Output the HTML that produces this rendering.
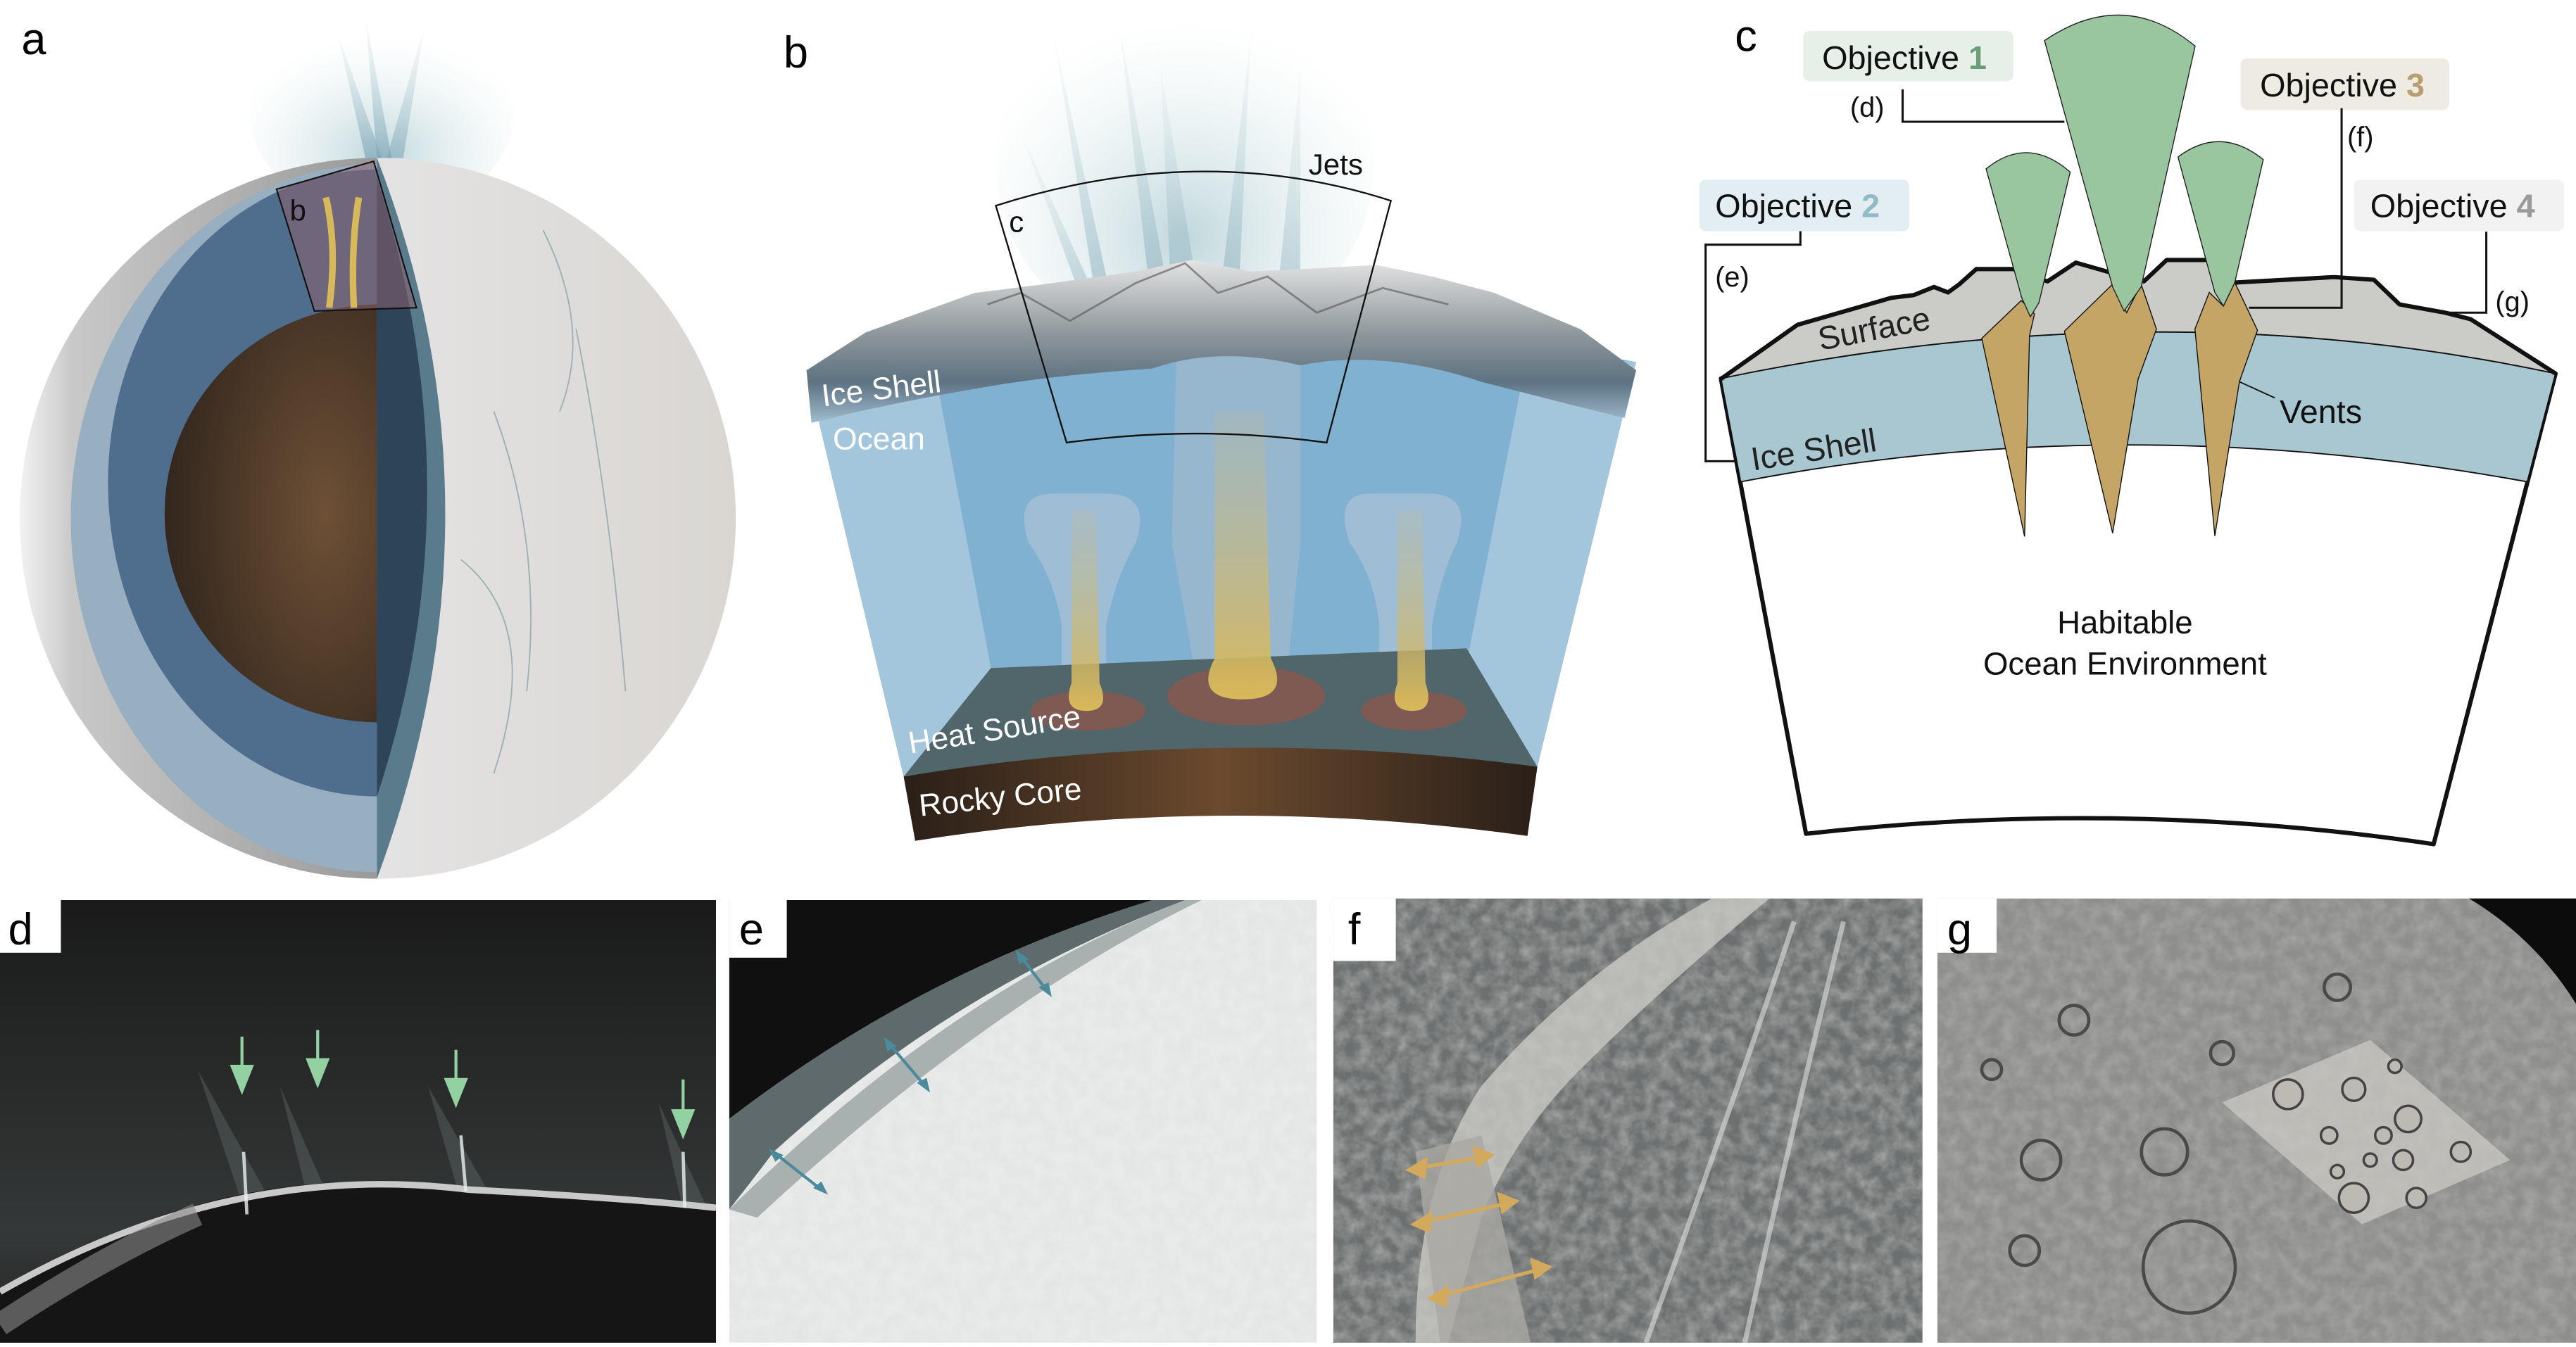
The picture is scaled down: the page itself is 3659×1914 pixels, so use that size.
<!DOCTYPE html>
<html><head><meta charset="utf-8">
<style>
html,body{margin:0;padding:0;background:#fff;}
svg{display:block;}
text{font-family:"Liberation Sans",Arial,sans-serif;}
</style></head>
<body>
<svg width="3659" height="1914" viewBox="0 0 1565 818.6" preserveAspectRatio="none" xmlns="http://www.w3.org/2000/svg">
<defs>
<radialGradient id="core" cx="0.75" cy="0.5" r="0.8">
<stop offset="0" stop-color="#6e5036"/><stop offset="1" stop-color="#2f241c"/></radialGradient>
<linearGradient id="shadow" x1="0" x2="1"><stop offset="0" stop-color="#f2f2f2"/><stop offset="0.15" stop-color="#c8c8c8"/><stop offset="1" stop-color="#9a9a9a"/></linearGradient>
<linearGradient id="ice" x1="0" x2="1" y1="0" y2="0"><stop offset="0" stop-color="#d8d8d6"/><stop offset="0.5" stop-color="#e4e3e3"/><stop offset="1" stop-color="#d9d6d2"/></linearGradient>
<radialGradient id="haze" cx="0.5" cy="0.7" r="0.6"><stop offset="0" stop-color="#b9d3d8" stop-opacity="0.9"/><stop offset="1" stop-color="#e6f0f1" stop-opacity="0"/></radialGradient>
<linearGradient id="jet" x1="0" y1="1" x2="0" y2="0"><stop offset="0" stop-color="#7ea6b6"/><stop offset="1" stop-color="#cfe2e6" stop-opacity="0.2"/></linearGradient>
<linearGradient id="rock" x1="0" x2="1"><stop offset="0" stop-color="#2a1f18"/><stop offset="0.5" stop-color="#6b4a2e"/><stop offset="1" stop-color="#2a1f18"/></linearGradient>
<linearGradient id="shell" x1="0" y1="0" x2="0" y2="1"><stop offset="0" stop-color="#e4e4e4"/><stop offset="0.45" stop-color="#8f989c"/><stop offset="0.75" stop-color="#5d7282"/><stop offset="1" stop-color="#9fbccd"/></linearGradient>
<linearGradient id="stem" x1="0" y1="0" x2="0" y2="1"><stop offset="0" stop-color="#c7b98a" stop-opacity="0.2"/><stop offset="1" stop-color="#d8b95a"/></linearGradient>
<linearGradient id="dsky" x1="0" y1="0" x2="0" y2="1"><stop offset="0" stop-color="#1a1a1a"/><stop offset="0.75" stop-color="#353838"/><stop offset="1" stop-color="#262626"/></linearGradient>
<filter id="tex" x="0" y="0" width="1" height="1"><feTurbulence type="fractalNoise" baseFrequency="0.12" numOctaves="3" seed="3"/><feColorMatrix type="matrix" values="0 0 0 0 0.5 0 0 0 0 0.5 0 0 0 0 0.5 0 0 0 1.2 -0.35"/></filter>
<clipPath id="cf"><rect x="810" y="546" width="358" height="270"/></clipPath>
<clipPath id="cg"><rect x="1177" y="546" width="388" height="270"/></clipPath>
<clipPath id="ce"><rect x="443" y="547" width="357" height="269"/></clipPath>
<clipPath id="cd"><rect x="0" y="547" width="435" height="269"/></clipPath>
</defs>

<!-- ============ Panel a ============ -->
<text x="13" y="33" font-size="27">a</text>
<ellipse cx="232" cy="70" rx="80" ry="60" fill="url(#haze)"/>
<polygon points="205,20 222,96 232,96" fill="url(#jet)" opacity="0.7"/>
<polygon points="222,10 229,96 238,96" fill="url(#jet)" opacity="0.7"/>
<polygon points="258,15 235,96 245,96" fill="url(#jet)" opacity="0.6"/>
<ellipse cx="230" cy="315" rx="217" ry="219" fill="url(#ice)"/>
<path d="M229,96 A217,219 0 0 0 229,534 Z" fill="url(#shadow)"/>
<path d="M229,100 A186,215 0 0 0 229,530 Z" fill="#97afc0"/>
<path d="M229,103 A163,190 0 0 0 229,484 Z" fill="#4f6d8d"/>
<path d="M230,185 A130,127 0 0 0 230,439 Z" fill="url(#core)"/>
<path d="M229,96 Q312,310 229,534 Z" fill="#5a7b8c"/>
<path d="M229,108 Q290,300 229,484 Z" fill="#2d4459"/>
<path d="M300,250 Q330,330 320,420 M350,200 Q370,300 380,420 M280,340 Q330,380 300,470 M330,140 Q360,200 340,250" fill="none" stroke="#7f9ea0" stroke-width="0.8" opacity="0.7"/>
<polygon points="168,115 227,98 253,187 191,189" fill="#8a6070" opacity="0.55"/>
<path d="M200,187 Q205,150 198,120 M215,187 Q213,150 218,120" stroke="#d8b95a" stroke-width="4" fill="none"/>
<polygon points="168,115 227,98 253,187 191,189" fill="none" stroke="#111" stroke-width="0.9"/>
<text x="176" y="134" font-size="18" fill="#111">b</text>

<!-- ============ Panel b ============ -->
<text x="476" y="41" font-size="27">b</text>
<ellipse cx="720" cy="100" rx="115" ry="110" fill="url(#haze)"/>
<polygon points="640,20 668,195 678,195" fill="url(#jet)" opacity="0.6"/>
<polygon points="680,15 700,190 712,190" fill="url(#jet)" opacity="0.6"/>
<polygon points="705,40 712,190 730,190" fill="url(#jet)" opacity="0.6"/>
<polygon points="760,20 740,190 752,190" fill="url(#jet)" opacity="0.6"/>
<polygon points="790,40 775,190 790,190" fill="url(#jet)" opacity="0.5"/>
<polygon points="620,80 660,190 670,190" fill="url(#jet)" opacity="0.5"/>
<!-- ocean -->
<polygon points="490,225 600,205 880,200 994,220 934,466 549,472" fill="#80b1d0"/>
<polygon points="490,225 566,215 602,406 549,472" fill="#a3c6dc"/>
<polygon points="994,220 928,215 891,403 934,466" fill="#a3c6dc"/>
<!-- plumes -->
<path d="M640,300 Q615,300 625,330 Q640,350 645,380 L645,430 L672,430 L672,380 Q678,350 690,330 Q700,300 672,300Z" fill="#b8c8d8" opacity="0.55"/>
<path d="M715,200 L712,330 L730,430 L780,430 L790,330 L790,200Z" fill="#a8bccc" opacity="0.55"/>
<path d="M832,300 Q810,300 820,330 Q835,350 838,380 L838,430 L870,430 L870,380 Q875,350 885,330 Q895,300 868,300Z" fill="#b8c8d8" opacity="0.55"/>
<!-- floor -->
<polygon points="602,406 891,394 934,466 549,472" fill="#51666a"/>
<ellipse cx="661" cy="432" rx="35" ry="12" fill="#7e5a52"/>
<ellipse cx="757" cy="423" rx="48" ry="18" fill="#7e5a52"/>
<ellipse cx="859" cy="432" rx="32" ry="12" fill="#7e5a52"/>
<path d="M651,310 L651,415 Q645,432 660,432 Q675,432 668,415 L666,310Z" fill="url(#stem)"/>
<path d="M738,250 L738,400 Q725,425 755,425 Q785,425 772,400 L768,250Z" fill="url(#stem)"/>
<path d="M849,310 L849,415 Q843,432 858,432 Q872,432 866,415 L864,310Z" fill="url(#stem)"/>
<!-- rocky core -->
<path d="M549,472 Q740,440 934,466 L928,508 Q740,482 556,511Z" fill="url(#rock)"/>
<!-- ice shell -->
<path d="M490,225 L526,202 L592,178 L640,172 L690,165 L724,158 L760,165 L800,163 L836,161 L870,168 L908,178 L960,200 L994,225 L987,254 Q950,245 900,232 Q840,212 790,222 Q740,210 700,224 Q640,228 600,235 Q540,245 493,257Z" fill="url(#shell)"/>
<path d="M600,185 L620,178 L650,195 L690,172 L720,160 L740,178 L770,168 L800,190 L840,175 L880,185" fill="none" stroke="#555" stroke-width="1.2" opacity="0.6"/>
<!-- c box -->
<path d="M605,125 Q730,85 845,122 L806,269 Q727,258 648,269Z" fill="none" stroke="#111" stroke-width="1"/>
<text x="613" y="141" font-size="18" fill="#111">c</text>
<text x="795" y="106" font-size="18" fill="#111">Jets</text>
<text x="0" y="0" font-size="19" fill="#fff" transform="translate(500,247) rotate(-7)">Ice Shell</text>
<text x="506" y="273" font-size="19" fill="#fff">Ocean</text>
<text x="0" y="0" font-size="19" fill="#fff" transform="translate(553,458) rotate(-9)">Heat Source</text>
<text x="0" y="0" font-size="19" fill="#fff" transform="translate(559,496) rotate(-6)">Rocky Core</text>

<!-- ============ Panel c ============ -->
<text x="1054" y="31" font-size="27">c</text>
<path d="M1045.5,230 L1097.2,506.7 Q1290,485 1478.5,513 L1552.6,227 Z" fill="#fff" stroke="#111" stroke-width="2.6" stroke-linejoin="round"/>
<path d="M1045.5,230 Q1309,175 1552.6,227 L1535.4,292.8 Q1290,248 1057.5,292.8Z" fill="#a8c7d1" stroke="#111" stroke-width="0.8"/>
<path d="M1045.5,230.3 L1092,197.4 L1149,181 L1162.8,179.3 L1174.9,174.4 L1183.5,177.7 L1190.4,172.7 L1200.7,163.5 L1223.2,163.5 L1243.9,171 L1261.1,159.6 L1283.5,166 L1302.5,171 L1316.3,158 L1340.5,158 L1357.7,171.7 L1418,168.4 L1442.2,170 L1457.8,185 L1485.4,190 L1501,194 L1552.6,227 Q1309,175 1045.5,230.3Z" fill="#cbccc8"/>
<path d="M1045.5,230.3 L1092,197.4 L1149,181 L1162.8,179.3 L1174.9,174.4 L1183.5,177.7 L1190.4,172.7 L1200.7,163.5 L1223.2,163.5 L1243.9,171 L1261.1,159.6 L1283.5,166 L1302.5,171 L1316.3,158 L1340.5,158 L1357.7,171.7 L1418,168.4 L1442.2,170 L1457.8,185 L1485.4,190 L1501,194 L1552.6,227" fill="none" stroke="#111" stroke-width="2.6" stroke-linejoin="round"/>
<path d="M1045.5,230 Q1309,175 1552.6,227" fill="none" stroke="#111" stroke-width="0.8"/>
<polygon points="1204,205.6 1228,182.6 1236,190.8 1233,204 1230,326" fill="#c4a566" stroke="#111" stroke-width="0.6"/>
<polygon points="1254.2,201.3 1283.5,172.7 1292,190 1300.8,172.7 1310.1,200 1299,230.3 1283.5,324" fill="#c4a566" stroke="#111" stroke-width="0.6"/>
<polygon points="1333.5,200 1342.2,177.7 1350.8,186 1357.7,171.7 1371.5,200.7 1360.5,232 1345.6,325.7" fill="#c4a566" stroke="#111" stroke-width="0.6"/>
<path d="M1242.1,24.7 Q1290,-8 1333.6,28 L1300.8,174.4 L1290.4,189 L1283.5,174.4Z" fill="#9ac69f" stroke="#222" stroke-width="0.6"/>
<path d="M1206.6,102.6 Q1232,82 1257.7,104.6 L1238.7,184 L1233.5,192.5 L1228.3,181Z" fill="#9ac69f" stroke="#222" stroke-width="0.6"/>
<path d="M1323.2,95.4 Q1349,76 1375,97 L1357.7,171.7 L1350.8,186 L1345.6,177.7Z" fill="#9ac69f" stroke="#222" stroke-width="0.6"/>
<line x1="1360.5" y1="232" x2="1382" y2="241.8" stroke="#111" stroke-width="0.8"/>
<text x="1385" y="257" font-size="20" fill="#111">Vents</text>
<text x="0" y="0" font-size="20" fill="#222" transform="translate(1106,213) rotate(-11)">Surface</text>
<text x="0" y="0" font-size="20" fill="#222" transform="translate(1065,286) rotate(-9)">Ice Shell</text>
<text x="1291" y="385" font-size="19.5" fill="#111" text-anchor="middle">Habitable</text>
<text x="1291" y="410" font-size="19.5" fill="#111" text-anchor="middle">Ocean Environment</text>
<rect x="1095.5" y="18.8" width="127.7" height="30.6" rx="4" fill="#e6f0e8"/>
<text x="1107" y="42" font-size="20" fill="#111">Objective <tspan fill="#6a9e78" font-weight="bold">1</tspan></text>
<rect x="1361.2" y="35.5" width="126.8" height="31.3" rx="4" fill="#eeebe3"/>
<text x="1373" y="58.5" font-size="20" fill="#111">Objective <tspan fill="#b79e6e" font-weight="bold">3</tspan></text>
<rect x="1032.4" y="109.2" width="127.6" height="31.3" rx="4" fill="#e2eef1"/>
<text x="1042" y="132" font-size="20" fill="#111">Objective <tspan fill="#8fbac6" font-weight="bold">2</tspan></text>
<rect x="1430.1" y="109.2" width="127.7" height="31.3" rx="4" fill="#f2f2f2"/>
<text x="1440" y="132" font-size="20" fill="#111">Objective <tspan fill="#9a9a9a" font-weight="bold">4</tspan></text>
<polyline points="1155.9,54.3 1155.9,74 1254.2,74" fill="none" stroke="#111" stroke-width="1.3"/>
<text x="1124" y="71" font-size="17" fill="#111">(d)</text>
<polyline points="1422.6,65.8 1422.6,187 1366.3,187" fill="none" stroke="#111" stroke-width="1.3"/>
<text x="1426" y="89" font-size="17" fill="#111">(f)</text>
<polyline points="1093.8,140.5 1093.8,148.7 1036.2,148.7 1036.2,280.3 1054.1,280.3" fill="none" stroke="#111" stroke-width="1.3"/>
<text x="1042" y="174" font-size="17" fill="#111">(e)</text>
<polyline points="1510.5,140.8 1510.5,190 1487,190" fill="none" stroke="#111" stroke-width="1.3"/>
<text x="1516" y="189" font-size="17" fill="#111">(g)</text>

<!-- ============ Panel d ============ -->
<g clip-path="url(#cd)">
<rect x="0" y="547" width="435" height="269" fill="url(#dsky)"/>
<path d="M120,650 L150,740 L170,740Z M260,660 L280,730 L300,730Z M400,670 L415,735 L430,735Z M170,660 L190,740 L205,740Z" fill="#6a7575" opacity="0.35"/>
<path d="M0,785 Q140,700 285,723 Q380,728 435,734 L435,816 L0,816Z" fill="#151515"/>
<path d="M0,785 Q140,705 285,723 Q380,728 435,734" fill="none" stroke="#c9c9c9" stroke-width="4"/>
<path d="M0,805 Q60,765 120,738" fill="none" stroke="#8a8a8a" stroke-width="14" opacity="0.6"/>
<path d="M148,700 L150,738 M280,690 L283,724 M415,700 L416,734" stroke="#e9f2f2" stroke-width="2" opacity="0.8"/>
</g>
<g stroke="#93d1a3" stroke-width="1.8" fill="#93d1a3">
<line x1="147" y1="630" x2="147" y2="655"/><polygon points="141,648 153,648 147,663"/>
<line x1="193" y1="626" x2="193" y2="651"/><polygon points="187,644 199,644 193,659"/>
<line x1="277" y1="638" x2="277" y2="663"/><polygon points="271,656 283,656 277,671"/>
<line x1="415" y1="656" x2="415" y2="682"/><polygon points="409,675 421,675 415,690"/>
</g>
<rect x="0" y="547" width="37" height="32" fill="#fff"/>
<text x="5" y="574" font-size="27">d</text>

<!-- ============ Panel e ============ -->
<g clip-path="url(#ce)">
<rect x="443" y="547" width="357" height="269" fill="#e9ebea"/>
<rect x="443" y="547" width="357" height="269" filter="url(#tex)" opacity="0.2"/>
<path d="M443,547 L700,547 Q560,590 443,680Z" fill="#101010"/>
<path d="M443,680 Q560,590 700,547 L720,547 Q580,600 470,700 Q455,720 443,735Z" fill="#5f6a6c"/>
<path d="M443,735 Q580,600 720,547 L730,547 Q600,610 460,740 Z" fill="#a9b0b0"/>
</g>
<g stroke="#4b8a9a" stroke-width="1.8" fill="none">
<line x1="620" y1="581" x2="636" y2="602"/><line x1="540" y1="634" x2="562" y2="660"/><line x1="471" y1="701" x2="499" y2="723"/>
</g>
<g fill="#4b8a9a">
<polygon points="617,577 625,583 619,586"/><polygon points="639,606 631,600 637,597"/>
<polygon points="537,630 545,636 539,639"/><polygon points="565,664 557,658 563,655"/>
<polygon points="467,698 476,702 471,706"/><polygon points="503,726 494,722 499,718"/>
</g>
<rect x="443" y="547" width="35" height="35" fill="#fff"/>
<text x="449" y="574" font-size="27">e</text>

<!-- ============ Panel f ============ -->
<g clip-path="url(#cf)">
<rect x="810" y="546" width="358" height="270" fill="#6d7070"/>
<rect x="810" y="546" width="358" height="270" filter="url(#tex)" opacity="0.9"/>
<path d="M1040,546 L1075,546 Q1010,600 960,650 Q920,690 900,740 L880,816 L860,816 Q860,720 900,660 Q960,590 1040,546Z" fill="#c9c9c4" opacity="0.8"/>
<path d="M860,700 L900,690 L930,816 L875,816Z" fill="#a9a7a3" opacity="0.8"/>
<path d="M1090,560 Q1060,650 1000,816 M1120,560 Q1090,680 1060,816" stroke="#dcdcdc" stroke-width="3" fill="none" opacity="0.6"/>
</g>
<g stroke="#d3aa5c" stroke-width="2.2" fill="#d3aa5c">
<line x1="860" y1="710" x2="902" y2="703"/><polygon points="856,711 866,705 865,715"/><polygon points="906,702 896,698 898,708"/>
<line x1="863" y1="743" x2="917" y2="731"/><polygon points="859,744 869,738 868,748"/><polygon points="921,730 911,726 913,736"/>
<line x1="873" y1="788" x2="937" y2="771"/><polygon points="869,789 879,783 878,793"/><polygon points="941,770 931,766 933,776"/>
</g>
<rect x="810" y="546" width="38" height="38" fill="#fff"/>
<text x="819" y="574" font-size="27">f</text>

<!-- ============ Panel g ============ -->
<g clip-path="url(#cg)">
<rect x="1177" y="546" width="388" height="270" fill="#8e8e8c"/>
<rect x="1177" y="546" width="388" height="270" filter="url(#tex)" opacity="0.7"/>
<path d="M1500,546 L1565,546 L1565,610 Q1540,570 1500,546Z" fill="#0c0c0c"/>
<g fill="none" stroke="#4a4a4a" stroke-width="2">
<circle cx="1330" cy="770" r="28"/><circle cx="1240" cy="705" r="12"/><circle cx="1315" cy="700" r="14"/>
<circle cx="1260" cy="620" r="9"/><circle cx="1350" cy="640" r="7"/><circle cx="1420" cy="600" r="8"/>
<circle cx="1230" cy="760" r="9"/><circle cx="1210" cy="650" r="6"/>
</g>
<polygon points="1440,632 1525,705 1435,744 1350,670" fill="#cfcdc8" opacity="0.7"/>
<g fill="#bdbab4" stroke="#444" stroke-width="1.5">
<circle cx="1390" cy="665" r="9"/><circle cx="1430" cy="662" r="7"/><circle cx="1463" cy="680" r="8"/>
<circle cx="1448" cy="690" r="5"/><circle cx="1415" cy="690" r="5"/><circle cx="1440" cy="705" r="4"/>
<circle cx="1460" cy="705" r="6"/><circle cx="1495" cy="700" r="6"/><circle cx="1420" cy="712" r="4"/>
<circle cx="1430" cy="728" r="9"/><circle cx="1468" cy="728" r="6"/><circle cx="1455" cy="648" r="4"/>
</g>
</g>
<rect x="1177" y="546" width="36" height="33" fill="#fff"/>
<text x="1183" y="574" font-size="27">g</text>
</svg>
</body></html>
